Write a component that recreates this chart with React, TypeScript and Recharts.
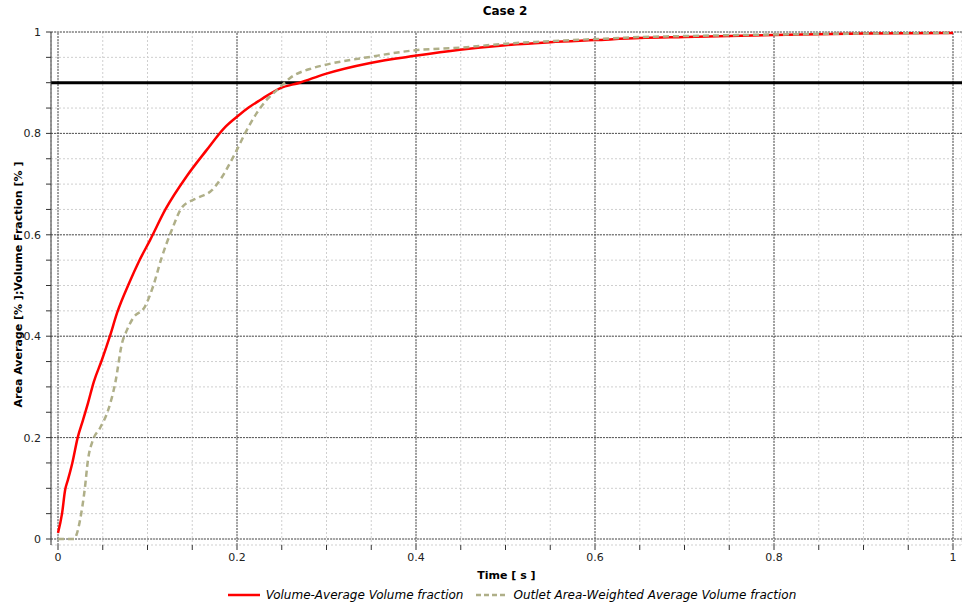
import {
  CartesianGrid,
  Legend,
  Line,
  LineChart,
  ReferenceLine,
  XAxis,
  YAxis,
} from 'recharts';

const redTime = [
  0, 0.0045, 0.008, 0.011, 0.016, 0.022, 0.028, 0.0335, 0.04, 0.049, 0.058, 0.066, 0.08, 0.09,
  0.103, 0.12, 0.144, 0.166, 0.187, 0.2, 0.213, 0.226, 0.248, 0.27, 0.298, 0.349, 0.399, 0.449,
  0.5, 0.55, 0.6, 0.65, 0.7, 0.8, 0.9, 1.0,
];
const redValue = [
  0.012, 0.05, 0.097, 0.116, 0.15, 0.2, 0.235, 0.268, 0.31, 0.353, 0.4, 0.446, 0.507, 0.546,
  0.59, 0.65, 0.716, 0.767, 0.813, 0.833, 0.851, 0.866, 0.889, 0.9, 0.917, 0.939, 0.953, 0.965,
  0.974, 0.98, 0.984, 0.988, 0.99, 0.994, 0.997, 0.998,
];

const greenTime = [
  0, 0.018, 0.021, 0.0246, 0.03, 0.0335, 0.039, 0.047, 0.056, 0.064, 0.0715, 0.077, 0.084, 0.097,
  0.106, 0.116, 0.127, 0.139, 0.155, 0.172, 0.181, 0.198, 0.209, 0.222, 0.233, 0.245, 0.259,
  0.285, 0.298, 0.349, 0.399, 0.449, 0.5, 0.55, 0.6, 0.65, 0.7, 0.8, 0.9, 1.0,
];
const greenValue = [
  0, 0, 0.01, 0.037, 0.1, 0.156, 0.195, 0.219, 0.254, 0.308, 0.386, 0.412, 0.436, 0.458,
  0.497, 0.556, 0.609, 0.655, 0.672, 0.688, 0.708, 0.761, 0.8, 0.84, 0.866, 0.886, 0.909,
  0.929, 0.935, 0.951, 0.964, 0.969, 0.977, 0.982, 0.986, 0.99, 0.992, 0.995, 0.997, 0.998,
];

const minorTicks = [
  0, 0.05, 0.1, 0.15, 0.2, 0.25, 0.3, 0.35, 0.4, 0.45, 0.5, 0.55, 0.6, 0.65, 0.7, 0.75, 0.8,
  0.85, 0.9, 0.95, 1,
];
const majorTicks = [0, 0.2, 0.4, 0.6, 0.8, 1];
const threshold = 0.9;

const redData = redTime.map((t, i) => ({ t, v: redValue[i] }));
const greenData = greenTime.map((t, i) => ({ t, v: greenValue[i] }));

const FONT = '"DejaVu Sans", Tahoma, sans-serif';
const RED = '#ff0000';
const OLIVE = '#afaf88';

const fmt = (v: number) => (majorTicks.some((m) => Math.abs(m - v) < 1e-6) ? String(v) : '');

function YLabel({ viewBox }: any) {
  const cy = viewBox.y + viewBox.height / 2 - 4;
  return (
    <text
      x={18}
      y={cy}
      transform={`rotate(-90 18 ${cy})`}
      textAnchor="middle"
      dominantBaseline="central"
      fontSize={11}
      fontWeight="bold"
      fill="#000"
      fontFamily={FONT}
    >
      Area Average [% ];Volume Fraction [% ]
    </text>
  );
}

function LegendBox() {
  return (
    <div
      style={{
        height: 24,
        display: 'flex',
        justifyContent: 'center',
        alignItems: 'center',
        paddingLeft: 62,
        fontFamily: FONT,
        fontSize: 12,
        fontStyle: 'italic',
        color: '#000',
      }}
    >
      <svg width={32} height={4} style={{ marginRight: 6 }}>
        <line x1={0} y1={2} x2={32} y2={2} stroke={RED} strokeWidth={2.5} />
      </svg>
      <span style={{ marginRight: 13 }}>Volume-Average Volume fraction</span>
      <svg width={30} height={4} style={{ marginRight: 7 }}>
        <line x1={0} y1={2} x2={30} y2={2} stroke={OLIVE} strokeWidth={2.5} strokeDasharray="5 3" />
      </svg>
      <span>Outlet Area-Weighted Average Volume fraction</span>
    </div>
  );
}

export default function App() {
  return (
    <div style={{ position: 'absolute', left: 0, top: 0, width: 962, height: 607, background: '#fff' }}>
      <div
        style={{
          position: 'absolute',
          top: 4,
          left: 405,
          width: 200,
          textAlign: 'center',
          fontFamily: FONT,
          fontWeight: 'bold',
          fontSize: 12,
        }}
      >
        Case 2
      </div>
      <LineChart width={962} height={607} margin={{ top: 32, right: 0, left: 0, bottom: 0 }}>
        <CartesianGrid stroke="#cfcfcf" strokeDasharray="2 2" />
        {majorTicks.map((m) => (
          <ReferenceLine key={`vx${m}`} x={m} stroke="#555" strokeDasharray="2 1" />
        ))}
        {majorTicks.map((m) => (
          <ReferenceLine key={`hy${m}`} y={m} stroke="#555" strokeDasharray="2 1" />
        ))}
        <XAxis
          type="number"
          dataKey="t"
          domain={[0, 1]}
          ticks={minorTicks}
          tickFormatter={fmt}
          interval={0}
          padding={{ left: 7, right: 9 }}
          axisLine={false}
          tickLine={{ stroke: '#333' }}
          tickSize={5}
          tickMargin={3}
          height={38}
          tick={{ fontSize: 11, fill: '#222', fontFamily: FONT }}
          allowDuplicatedCategory={false}
          label={{
            value: 'Time [ s ]',
            position: 'insideBottom',
            offset: 4,
            style: { fontSize: 11, fontWeight: 'bold', fill: '#000', fontFamily: FONT },
          }}
        />
        <YAxis
          type="number"
          domain={[0, 1]}
          ticks={minorTicks}
          tickFormatter={fmt}
          interval={0}
          width={51}
          padding={{ bottom: 6 }}
          axisLine={{ stroke: '#333' }}
          tickLine={{ stroke: '#333' }}
          tickSize={5}
          tickMargin={5}
          tick={{ fontSize: 11, fill: '#222', fontFamily: FONT }}
          label={<YLabel />}
        />
        <ReferenceLine y={threshold} stroke="#000" strokeWidth={3} />
        <Legend verticalAlign="bottom" wrapperStyle={{ left: 0, width: 962 }} content={<LegendBox />} />
        <Line
          data={redData}
          dataKey="v"
          type="monotone"
          stroke={RED}
          strokeWidth={2.5}
          dot={false}
          isAnimationActive={false}
          name="Volume-Average Volume fraction"
        />
        <Line
          data={greenData}
          dataKey="v"
          type="monotone"
          stroke={OLIVE}
          strokeWidth={2.5}
          strokeDasharray="6 4"
          dot={false}
          isAnimationActive={false}
          name="Outlet Area-Weighted Average Volume fraction"
        />
      </LineChart>
    </div>
  );
}
